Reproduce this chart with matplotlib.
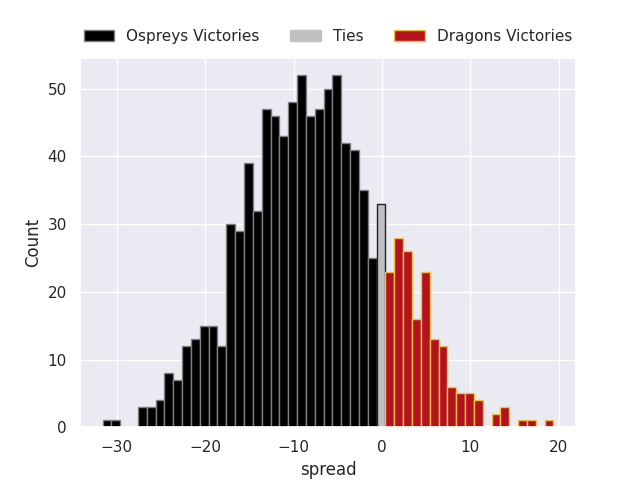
import numpy as np
import matplotlib
matplotlib.use("Agg")
import matplotlib.pyplot as plt
import seaborn as sns
from matplotlib.patches import Patch

sns.set_theme(style="darkgrid")

# -- data: counts per integer spread (Ospreys negative, Dragons positive) --------
ospreys_spread = list(range(-31, 0))
ospreys_count = [1, 1, 0, 0, 3, 3, 4, 8, 7, 12, 13, 15, 15, 12, 30, 29, 39, 32,
                 47, 46, 43, 48, 52, 46, 47, 50, 52, 42, 41, 35, 25]

ties_spread = [0]
ties_count = [33]

dragons_spread = list(range(1, 20))
dragons_count = [23, 28, 26, 16, 23, 13, 12, 6, 5, 5, 4, 0, 2, 3, 0, 1, 1, 0, 1]

BIN_W = 1.0
OFFSET = -0.6   # bin left edge relative to the integer spread

fig, ax = plt.subplots(figsize=(6.4, 4.8), dpi=100)

ax.bar(np.array(ospreys_spread) + OFFSET, ospreys_count, width=BIN_W, align="edge",
       color="black", edgecolor="#7f7f7f", linewidth=1)
ax.bar(np.array(ties_spread) + OFFSET, ties_count, width=BIN_W, align="edge",
       color="silver", edgecolor="#222222", linewidth=1)
ax.bar(np.array(dragons_spread) + OFFSET, dragons_count, width=BIN_W, align="edge",
       color="#b3121f", edgecolor="#f4c040", linewidth=1)

ax.set_xlabel("spread")
ax.set_ylabel("Count")
ax.set_xticks([-30, -20, -10, 0, 10, 20])

handles = [
    Patch(facecolor="black", edgecolor="#7f7f7f", label="Ospreys Victories"),
    Patch(facecolor="silver", edgecolor="silver", label="Ties"),
    Patch(facecolor="#b3121f", edgecolor="#f4c040", label="Dragons Victories"),
]
ax.legend(handles=handles, loc="lower center", bbox_to_anchor=(0.5, 1.0),
          ncol=3, frameon=False)

fig.savefig("out.png", dpi=100)
